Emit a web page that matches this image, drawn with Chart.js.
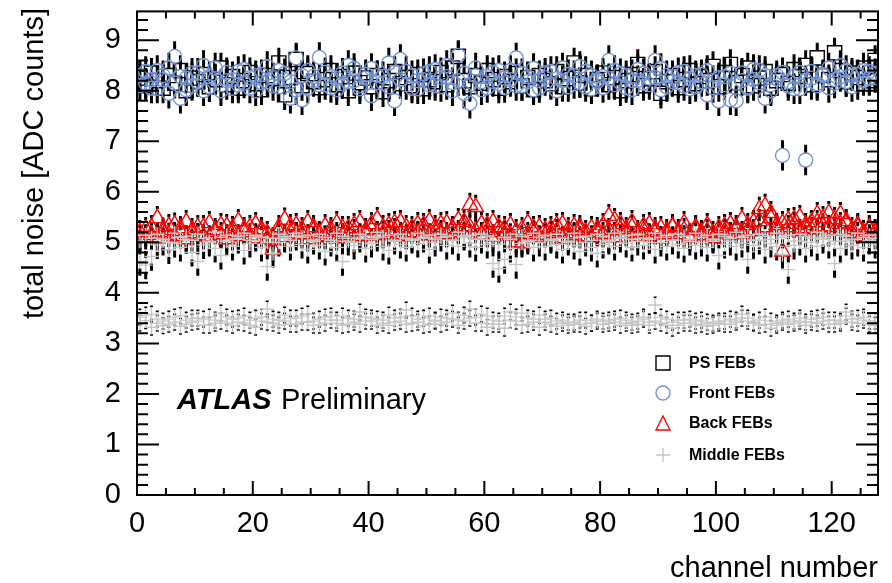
<!DOCTYPE html>
<html>
<head>
<meta charset="utf-8">
<script src="https://cdn.jsdelivr.net/npm/chart.js@4.4.0/dist/chart.umd.min.js"></script>
<style>
body { margin:0; background:#fff; }
canvas { display:block; }
</style>
</head>
<body>
<canvas id="chart" width="892" height="583"></canvas>
<script>
// channel numbers 0..127 (points sit at bin centre, channel + 0.5)
const channels = Array.from({length:128}, (_, i) => i);

const xTicks = [0, 20, 40, 60, 80, 100, 120];
const yTicks = [0, 1, 2, 3, 4, 5, 6, 7, 8, 9];

// PS FEBs
const psFebs = [
  8.25,8.10,8.35,8.20,8.05,8.30,8.15,8.40,8.00,8.25,8.18,8.32,8.08,8.22,8.45,8.12,
  8.28,8.05,8.20,8.36,8.14,8.02,8.30,8.24,8.55,7.92,8.26,8.62,8.10,8.34,8.18,8.06,
  8.22,8.40,8.12,8.28,8.00,8.35,8.16,8.25,8.08,8.30,7.98,8.20,8.38,8.14,8.26,8.10,
  8.32,8.04,8.22,8.18,8.36,8.12,8.45,8.68,8.20,8.08,8.30,8.15,8.40,8.22,8.05,8.28,
  8.18,8.34,8.10,8.26,8.02,8.30,8.20,8.14,8.38,8.08,8.24,8.55,8.16,8.30,8.04,8.22,
  8.35,8.12,8.26,8.00,8.20,8.32,8.52,8.10,8.24,8.38,7.95,8.18,8.30,8.06,8.22,8.40,
  8.14,8.28,8.20,8.48,8.08,8.36,8.52,8.16,8.30,8.45,8.10,8.25,8.38,8.05,8.20,8.32,
  8.15,8.42,8.28,8.50,8.12,8.65,8.30,8.22,8.75,8.40,8.18,8.35,8.26,8.45,8.20,8.60
];
// Front FEBs
const frontFebsA = [
  8.30,8.15,8.05,8.40,8.22,7.95,8.68,7.85,8.25,8.10,8.35,8.00,8.28,8.45,8.12,8.20,
  8.05,8.38,8.15,8.26,8.00,8.32,8.18,8.10,8.40,8.22,7.85,8.65,8.30,8.05,8.20,8.66,
  8.12,8.28,8.02,8.35,8.18,8.44,8.10,8.25,7.90,8.30,8.15,8.55,7.80,8.22,8.38,8.05,
  8.20,8.34,8.12,8.42,8.08,8.28,8.16,8.70,7.95,7.75,8.30,8.18,8.06,8.36,8.14,8.25,
  8.40,8.65,8.10,8.28,8.02,8.20,8.35,8.12,8.24,8.45,8.08,8.30,8.16,8.38,8.04,8.22,
  8.28,8.60,8.12,8.34,8.06,8.20,8.42,8.15,8.25,8.60,8.02,8.30,8.18,8.36,8.10,8.24,
  8.08,8.32,7.92,8.20,7.80,8.28,7.82,8.15,8.35,8.05,8.22,8.40,7.85,8.12,8.30,6.72,
  8.18,8.04,8.36,6.63,8.25,8.10,8.30,8.45,8.15,8.28,8.40,8.08,8.32,8.20,8.38,8.26
];
const frontFebsB = [
  8.10,8.38,8.22,8.05,8.30,8.45,8.15,8.28,8.02,8.35,8.18,8.50,8.08,8.24,8.00,8.36,
  8.22,8.12,8.42,8.05,8.30,8.16,8.48,8.26,8.08,8.34,8.18,8.02,7.82,8.40,8.28,8.12,
  8.36,8.06,8.24,8.14,8.50,8.20,8.04,8.32,8.44,8.16,8.28,8.08,8.36,8.62,8.12,8.30,
  8.04,8.22,8.38,8.10,8.26,8.50,8.00,8.20,8.34,8.12,8.45,8.02,8.28,8.18,8.40,8.06,
  8.22,8.10,8.34,8.18,8.44,8.06,8.26,8.38,8.00,8.20,8.32,8.14,8.48,8.08,8.30,8.18,
  8.06,8.24,8.40,8.16,8.30,8.02,8.20,8.34,8.12,8.26,8.44,8.08,8.28,8.16,8.38,8.04,
  8.30,8.18,8.40,8.06,8.26,8.12,8.34,7.80,8.20,8.08,8.42,8.16,8.30,8.00,8.24,8.36,
  8.10,8.28,8.04,8.20,8.38,8.14,8.32,8.06,8.22,8.50,8.18,8.30,8.12,8.40,8.24,8.34
];
// Back FEBs
const backFebsA = [
  5.20,5.10,5.30,5.48,5.25,5.15,5.35,5.22,5.40,5.18,5.30,5.12,5.38,5.24,5.16,5.32,
  5.20,5.42,5.26,5.14,5.36,5.22,5.08,4.86,5.30,5.45,5.20,5.34,5.16,5.40,5.24,5.12,
  5.32,5.20,5.38,5.14,5.28,5.22,5.40,5.16,5.26,5.46,5.18,5.34,5.24,5.40,5.30,5.20,
  5.36,5.26,5.42,5.30,5.20,5.38,5.28,5.44,5.32,5.74,5.70,5.36,5.24,5.40,5.30,5.18,
  5.34,5.00,5.26,5.38,5.20,5.30,5.14,5.28,5.22,5.36,5.18,5.32,5.24,5.12,5.28,5.20,
  5.34,5.52,5.44,5.26,5.18,5.30,5.12,5.24,5.36,5.20,5.28,5.16,5.32,5.22,5.38,5.14,
  5.26,5.20,5.34,5.18,5.28,5.22,5.36,5.30,5.46,5.24,5.40,5.66,5.72,5.58,5.34,4.82,
  5.44,5.36,5.50,5.28,5.40,5.56,5.32,5.58,5.46,5.56,5.38,5.26,5.34,5.20,5.30,5.22
];
const backFebsB = [
  5.10,5.26,5.15,5.08,5.20,5.32,5.12,5.28,5.06,5.24,5.14,5.30,5.10,5.20,5.34,5.06,
  5.28,5.12,5.20,5.30,5.08,5.26,5.18,5.04,5.22,5.10,5.32,5.16,5.26,5.06,5.30,5.18,
  5.10,5.26,5.08,5.28,5.18,5.34,5.12,5.24,5.36,5.14,5.30,5.20,5.38,5.16,5.12,5.28,
  5.18,5.34,5.14,5.22,5.36,5.16,5.26,5.20,5.40,5.30,5.22,5.16,5.34,5.12,5.20,5.28,
  5.14,5.22,4.98,5.16,5.28,5.10,5.24,5.18,5.34,5.08,5.26,5.14,5.30,5.20,5.10,5.26,
  5.16,5.24,5.10,5.36,5.26,5.40,5.20,5.32,5.14,5.26,5.08,5.22,5.30,5.16,5.24,5.10,
  5.30,5.14,5.22,5.08,5.20,5.32,5.16,5.26,5.18,5.34,5.22,5.42,5.30,5.48,5.26,5.38,
  5.30,5.46,5.22,5.34,5.26,5.40,5.48,5.30,5.24,5.36,5.42,5.18,5.30,5.12,5.26,5.18
];
// Middle FEBs
const middleFebsA = [
  4.62,4.55,4.72,4.95,5.02,4.85,4.98,4.90,5.05,4.80,4.62,4.95,5.00,4.88,4.74,5.02,
  4.92,5.06,4.84,4.98,5.10,4.90,4.52,4.78,5.00,5.08,4.92,5.12,4.96,4.86,5.04,4.94,
  4.82,5.00,4.90,4.62,5.02,4.94,5.08,4.88,4.98,5.10,4.92,4.84,5.04,4.96,4.90,5.06,
  4.98,5.08,4.86,5.00,5.10,4.94,5.04,4.92,5.12,4.98,4.90,5.06,4.96,4.58,4.48,4.66,
  4.88,4.56,4.98,5.04,4.90,5.00,4.92,5.06,4.96,4.86,5.02,4.94,4.82,5.00,4.90,4.78,
  4.96,5.04,4.92,5.08,4.98,4.90,5.02,4.94,5.06,4.86,5.00,4.92,5.04,4.96,4.88,5.02,
  4.94,5.00,4.90,5.06,4.74,4.96,5.02,4.92,4.98,4.66,4.94,5.04,4.86,4.98,4.92,4.76,
  4.46,4.94,5.02,4.88,5.00,4.92,5.06,4.96,4.58,4.88,5.02,4.94,5.00,4.90,5.04,4.96
];
const middleFebsB = [
  5.02,5.14,5.08,5.16,5.06,5.00,5.18,5.10,5.12,5.04,5.16,5.08,5.02,5.20,5.10,5.14,
  5.06,5.12,5.18,5.04,5.14,5.10,5.00,5.08,5.16,5.12,5.04,5.18,5.10,5.14,5.02,5.16,
  5.10,5.04,5.18,5.12,5.08,5.00,5.16,5.12,5.06,5.20,5.10,5.14,5.02,5.16,5.08,5.04,
  5.18,5.10,5.14,5.06,5.16,5.12,5.04,5.20,5.10,5.14,5.06,5.16,5.12,5.04,4.96,5.10,
  5.06,5.16,5.12,5.02,5.18,5.10,5.14,5.04,5.16,5.08,5.00,5.18,5.10,5.12,5.04,5.16,
  5.12,5.02,5.18,5.10,5.14,5.06,5.16,5.08,5.00,5.18,5.10,5.14,5.04,5.16,5.12,5.06,
  5.18,5.10,5.14,5.02,5.16,5.12,5.08,5.20,5.10,5.14,5.04,5.16,5.12,5.06,5.18,5.10,
  5.14,5.02,5.16,5.12,5.08,5.20,5.10,5.14,5.02,5.16,5.12,5.06,5.18,5.10,5.14,5.08
];
const middleFebsC = [
  3.52,3.45,3.58,3.40,3.35,3.48,3.42,3.55,3.38,3.50,3.44,3.36,3.52,3.46,3.60,3.40,
  3.48,3.42,3.54,3.36,3.50,3.44,3.68,3.40,3.46,3.56,3.38,3.50,3.42,3.58,3.44,3.36,
  3.52,3.46,3.40,3.54,3.38,3.48,3.62,3.44,3.50,3.36,3.46,3.56,3.42,3.52,3.66,3.40,
  3.48,3.36,3.54,3.44,3.38,3.50,3.60,3.46,3.56,3.68,3.52,3.40,3.32,3.46,3.38,3.54,
  3.62,3.44,3.36,3.50,3.42,3.32,3.48,3.38,3.44,3.40,3.36,3.42,3.38,3.46,3.40,3.44,
  3.38,3.46,3.42,3.50,3.40,3.36,3.44,3.48,3.42,3.76,3.52,3.36,3.30,3.46,3.40,3.48,
  3.44,3.38,3.42,3.36,3.40,3.44,3.38,3.46,3.58,3.50,3.42,3.36,3.52,3.30,3.40,3.46,
  3.38,3.44,3.50,3.42,3.48,3.40,3.52,3.46,3.38,3.44,3.62,3.48,3.40,3.52,3.44,3.36
];
const middleFebsD = [
  3.40,3.56,3.32,3.48,3.44,3.38,3.52,3.34,3.46,3.42,3.50,3.48,3.36,3.40,3.44,3.52,
  3.36,3.50,3.40,3.46,3.32,3.52,3.42,3.48,3.36,3.44,3.50,3.38,3.54,3.42,3.36,3.48,
  3.40,3.54,3.46,3.36,3.50,3.42,3.38,3.52,3.44,3.48,3.40,3.36,3.50,3.44,3.38,3.54,
  3.42,3.50,3.38,3.46,3.52,3.42,3.48,3.36,3.44,3.50,3.40,3.58,3.54,3.38,3.44,3.30,
  3.46,3.52,3.60,3.38,3.48,3.56,3.42,3.50,3.34,3.46,3.42,3.38,3.46,3.34,3.40,3.48,
  3.44,3.40,3.48,3.36,3.46,3.42,3.38,3.52,3.36,3.44,3.40,3.48,3.42,3.36,3.46,3.40,
  3.36,3.46,3.34,3.40,3.44,3.38,3.48,3.42,3.50,3.44,3.40,3.46,3.38,3.44,3.36,3.42,
  3.48,3.40,3.44,3.36,3.42,3.50,3.44,3.38,3.46,3.40,3.54,3.42,3.50,3.46,3.38,3.44
];
// error (ADC counts) per series, same order as above
const psErr = [0.30];
const frontErr = [0.30, 0.30];
const backErr = [0.24, 0.24];
const middleErr = [0.28, 0.22, 0.17, 0.17];

const FONT = '"Liberation Sans", Arial, Helvetica, sans-serif';

const styles = {
  ps:     { pointStyle:'rect',     radius:10,  color:'#000000', gapUp:7,   gapDown:7 },
  front:  { pointStyle:'circle',   radius:7,   color:'#7393d3', gapUp:7,   gapDown:7 },
  back:   { pointStyle:'triangle', radius:9,   color:'#ff0000', gapUp:9,   gapDown:4.5 },
  middle: { pointStyle:'cross',    radius:7,   color:'#c6c6c6', gapUp:7,   gapDown:7 }
};

function makeSet(label, values, err, st, order){
  return {
    label: label,
    data: values.map((v, i) => ({x: channels[i] + 0.5, y: v})),
    err: err,
    gapUp: st.gapUp, gapDown: st.gapDown,
    pointStyle: st.pointStyle,
    pointRadius: st.radius,
    pointBorderColor: st.color,
    pointBackgroundColor: 'rgba(0,0,0,0)',
    pointBorderWidth: 1.4,
    showLine: false,
    order: order,
    clip: 0
  };
}

const datasets = [
  makeSet('PS FEBs', psFebs, psErr[0], styles.ps, 4),
  makeSet('Front FEBs', frontFebsA, frontErr[0], styles.front, 3),
  makeSet('Front FEBs', frontFebsB, frontErr[1], styles.front, 3),
  makeSet('Back FEBs', backFebsA, backErr[0], styles.back, 2),
  makeSet('Back FEBs', backFebsB, backErr[1], styles.back, 2),
  makeSet('Middle FEBs', middleFebsA, middleErr[0], styles.middle, 1),
  makeSet('Middle FEBs', middleFebsB, middleErr[1], styles.middle, 1),
  makeSet('Middle FEBs', middleFebsC, middleErr[2], styles.middle, 1),
  makeSet('Middle FEBs', middleFebsD, middleErr[3], styles.middle, 1)
];

const legendItems = [
  {label:'PS FEBs', st:styles.ps},
  {label:'Front FEBs', st:styles.front},
  {label:'Back FEBs', st:styles.back},
  {label:'Middle FEBs', st:styles.middle}
];

function drawMarker(ctx, st, x, y, r){
  ctx.save();
  ctx.strokeStyle = st.color;
  ctx.lineWidth = 1.4;
  ctx.beginPath();
  if(st.pointStyle === 'rect'){
    ctx.rect(x - r, y - r, 2*r, 2*r);
  } else if(st.pointStyle === 'circle'){
    ctx.arc(x, y, r, 0, Math.PI*2);
  } else if(st.pointStyle === 'triangle'){
    ctx.moveTo(x, y - r);
    ctx.lineTo(x + r, y + r);
    ctx.lineTo(x - r, y + r);
    ctx.closePath();
  } else {
    ctx.moveTo(x - r, y); ctx.lineTo(x + r, y);
    ctx.moveTo(x, y - r); ctx.lineTo(x, y + r);
  }
  ctx.stroke();
  ctx.restore();
}

const rootStyle = {
  id: 'rootStyle',
  beforeDatasetsDraw(chart){
    // error bars, drawn outside the marker like ROOT does
    const {ctx, chartArea:a} = chart;
    const ys = chart.scales.y;
    ctx.save();
    ctx.beginPath();
    ctx.rect(a.left, a.top, a.right - a.left, a.bottom - a.top);
    ctx.clip();
    ctx.strokeStyle = '#000';
    ctx.lineWidth = 3;
    chart.data.datasets.forEach((ds, i) => {
      const meta = chart.getDatasetMeta(i);
      meta.data.forEach((pt, j) => {
        const v = ds.data[j].y;
        const top = ys.getPixelForValue(v + ds.err);
        const bot = ys.getPixelForValue(v - ds.err);
        ctx.beginPath();
        if(pt.y - ds.gapUp > top){ ctx.moveTo(pt.x, top); ctx.lineTo(pt.x, pt.y - ds.gapUp); }
        if(pt.y + ds.gapDown < bot){ ctx.moveTo(pt.x, pt.y + ds.gapDown); ctx.lineTo(pt.x, bot); }
        ctx.stroke();
      });
    });
    ctx.restore();
  },
  afterDatasetsDraw(chart){
    const {ctx, chartArea:a} = chart;
    const xs = chart.scales.x, ys = chart.scales.y;
    ctx.save();
    ctx.strokeStyle = '#000';
    ctx.lineWidth = 2;
    ctx.strokeRect(a.left, a.top, a.right - a.left, a.bottom - a.top);
    // y ticks, left and right
    ctx.beginPath();
    for(let k = 0; k * 0.2 <= ys.max + 1e-9; k++){
      const py = ys.getPixelForValue(k * 0.2);
      const len = (k % 5 === 0) ? 22 : 11;
      ctx.moveTo(a.left, py); ctx.lineTo(a.left + len, py);
      ctx.moveTo(a.right, py); ctx.lineTo(a.right - len, py);
    }
    // x ticks, bottom and top
    for(let k = 0; k * 5 <= xs.max; k++){
      const px = xs.getPixelForValue(k * 5);
      const len = ((k * 5) % 20 === 0) ? 14 : 7;
      ctx.moveTo(px, a.bottom); ctx.lineTo(px, a.bottom - len);
      ctx.moveTo(px, a.top); ctx.lineTo(px, a.top + len);
    }
    ctx.stroke();

    // legend
    const ly = [363, 393, 423, 455];
    legendItems.forEach((it, i) => {
      drawMarker(ctx, it.st, 663, ly[i], 7);
      ctx.fillStyle = '#000';
      ctx.font = 'bold 16px ' + FONT;
      ctx.textAlign = 'left';
      ctx.textBaseline = 'middle';
      ctx.fillText(it.label, 689, ly[i] + 1);
    });

    // ATLAS label
    ctx.fillStyle = '#000';
    ctx.textBaseline = 'alphabetic';
    ctx.textAlign = 'left';
    ctx.font = 'italic bold 29px ' + FONT;
    ctx.fillText('ATLAS', 177, 409);
    ctx.font = '29px ' + FONT;
    ctx.fillText('Preliminary', 281, 409);
    ctx.restore();
  },
  afterDraw(chart){
    const ctx = chart.ctx;
    ctx.save();
    ctx.fillStyle = '#000';
    ctx.font = '29px ' + FONT;
    ctx.textAlign = 'right';
    ctx.textBaseline = 'alphabetic';
    ctx.fillText('channel number', 878, 577);
    ctx.translate(35, 8);
    ctx.rotate(-Math.PI / 2);
    ctx.textBaseline = 'middle';
    ctx.fillText('total noise [ADC counts]', 0, 0);
    ctx.restore();
  }
};

new Chart(document.getElementById('chart'), {
  type: 'scatter',
  data: { datasets: datasets },
  plugins: [rootStyle],
  options: {
    responsive: false,
    animation: false,
    layout: { padding: { left: 0, right: 14, top: 10, bottom: 0 } },
    plugins: { legend: { display: false }, tooltip: { enabled: false } },
    scales: {
      x: {
        type: 'linear', min: 0, max: 128,
        grid: { display: false }, border: { display: false },
        afterBuildTicks: s => { s.ticks = xTicks.map(v => ({value: v})); },
        afterFit: s => { s.height = 88; s.paddingLeft = 0; s.paddingRight = 0; },
        ticks: { color: '#000', font: { family: FONT, size: 29 }, padding: 4, maxRotation: 0, autoSkip: false }
      },
      y: {
        type: 'linear', min: 0, max: 9.57,
        grid: { display: false }, border: { display: false },
        afterBuildTicks: s => { s.ticks = yTicks.map(v => ({value: v})); },
        afterFit: s => { s.width = 137; s.paddingTop = 0; s.paddingBottom = 0; },
        ticks: { color: '#000', font: { family: FONT, size: 29 }, padding: 8 }
      }
    }
  }
});
</script>
</body>
</html>
